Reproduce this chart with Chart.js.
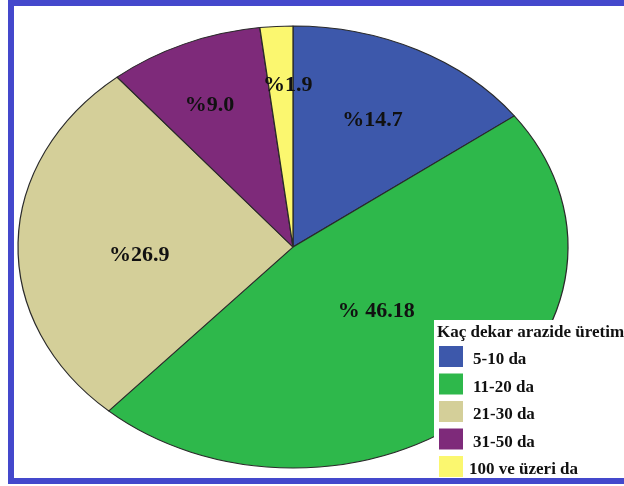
<!DOCTYPE html>
<html>
<head>
<meta charset="utf-8">
<script src="https://cdn.jsdelivr.net/npm/chart.js@4"></script>
<style>
  html, body { margin: 0; padding: 0; background: #fff; overflow: hidden; }
  #frame {
    position: absolute; left: 8px; top: 0; width: 700px; height: 472px;
    border: 6px solid #4448cc; border-right: none;
  }
  #wrap { position: absolute; left: 0; top: 0; width: 624px; height: 486px; }
</style>
</head>
<body>
<div id="frame"></div>
<div id="wrap"><canvas id="myChart" width="624" height="486"></canvas></div>
<script>
// Data
const categories = ['5-10 da', '11-20 da', '21-30 da', '31-50 da', '100 ve üzeri da'];
const values = [14.7, 46.18, 26.9, 9.0, 1.9];
const valueLabels = ['%14.7', '% 46.18', '%26.9', '%9.0', '%1.9'];
const legendTitle = 'Kaç dekar arazide üretim';

const colors = ['#3d58ab', '#2eb84b', '#d4cf99', '#7e2a7a', '#fbf76f'];

// pie is drawn as an ellipse: circle stretched horizontally
const stretchX = 275 / 221;
// where each label sits along its slice (fraction of radius, angle nudge in degrees)
const labelRadius = [0.64, 0.42, 0.56, 0.71, 0.73];
const labelNudge = [0, -4, -5, -2, 2];

const ellipse = {
  id: 'ellipse',
  beforeDatasetsDraw(chart) {
    const arc = chart.getDatasetMeta(0).data[0];
    const ctx = chart.ctx;
    ctx.save();
    ctx.translate(arc.x, arc.y);
    ctx.scale(stretchX, 1);
    ctx.translate(-arc.x, -arc.y);
  },
  afterDatasetsDraw(chart) {
    const ctx = chart.ctx;
    ctx.restore();

    // slice labels
    ctx.save();
    ctx.font = 'bold 22px "Liberation Serif"';
    ctx.fillStyle = '#111';
    ctx.textAlign = 'center';
    ctx.textBaseline = 'middle';
    chart.getDatasetMeta(0).data.forEach((a, i) => {
      const mid = (a.startAngle + a.endAngle) / 2 + labelNudge[i] * Math.PI / 180;
      const r = a.outerRadius * labelRadius[i];
      const x = a.x + Math.cos(mid) * r * stretchX;
      const y = a.y + Math.sin(mid) * r;
      ctx.fillText(valueLabels[i], x, y);
    });
    ctx.restore();
  },
  afterDraw(chart) {
    // legend box, overlapping the pie bottom right
    const ctx = chart.ctx;
    ctx.save();
    ctx.fillStyle = '#fff';
    ctx.fillRect(434, 320, 200, 158);
    ctx.fillStyle = '#111';
    ctx.textBaseline = 'alphabetic';
    ctx.font = 'bold 17px "Liberation Serif"';
    ctx.fillText(legendTitle, 437, 337);
    categories.forEach((c, i) => {
      const y = 346 + i * 27.5;
      ctx.fillStyle = colors[i];
      ctx.fillRect(439, y, 24, 21);
      ctx.fillStyle = '#111';
      ctx.fillText(c, i === 4 ? 469 : 473, y + 18);
    });
    ctx.restore();
  }
};

const ctx = document.getElementById('myChart');

new Chart(ctx, {
  type: 'pie',
  data: {
    labels: categories,
    datasets: [{
      data: values,
      backgroundColor: colors,
      borderColor: '#2a2a2a',
      borderWidth: 1
    }]
  },
  options: {
    responsive: false,
    animation: false,
    events: [],
    radius: 221,
    layout: {
      padding: { left: 72, right: 110, top: 26, bottom: 18 }
    },
    plugins: {
      legend: { display: false },
      tooltip: { enabled: false }
    }
  },
  plugins: [ellipse]
});
</script>
</body>
</html>
